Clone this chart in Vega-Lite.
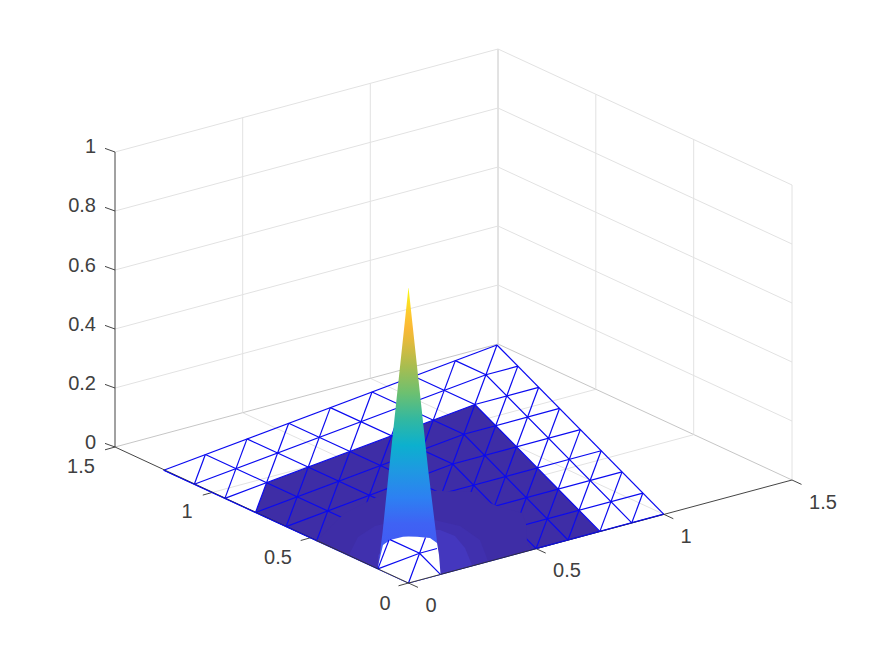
{"$schema":"https://vega.github.io/schema/vega-lite/v6.json","width":875,"height":656,"autosize":{"type":"fit","contains":"padding"},"padding":0,"background":"white","config":{"view":{"stroke":null}},
"datasets":{
"grid":[
{"l":"fx1","k":"a","u":536.2,"v":548.7},{"l":"fx1","k":"a","u":242.7,"v":412.7},
{"l":"fx2","k":"a","u":663.8,"v":514.3},{"l":"fx2","k":"a","u":370.3,"v":378.3},
{"l":"fy1","k":"a","u":310.7,"v":537.7},{"l":"fy1","k":"a","u":693.7,"v":434.7},
{"l":"fy2","k":"a","u":212.8,"v":492.3},{"l":"fy2","k":"a","u":595.8,"v":389.3},
{"l":"b1","k":"b","u":115,"v":447},{"l":"b1","k":"b","u":498,"v":344},
{"l":"b2","k":"b","u":498,"v":344},{"l":"b2","k":"b","u":792,"v":480},
{"l":"b3","k":"b","u":498,"v":344},{"l":"b3","k":"b","u":498,"v":49},
{"l":"v1","k":"a","u":242.7,"v":412.7},{"l":"v1","k":"a","u":242.7,"v":117.7},
{"l":"v2","k":"a","u":370.3,"v":378.3},{"l":"v2","k":"a","u":370.3,"v":83.3},
{"l":"v3","k":"a","u":595.8,"v":389.3},{"l":"v3","k":"a","u":595.8,"v":94.3},
{"l":"v4","k":"a","u":693.7,"v":434.7},{"l":"v4","k":"a","u":693.7,"v":139.7},
{"l":"v5","k":"a","u":792,"v":480},{"l":"v5","k":"a","u":792,"v":185},
{"l":"L2","k":"a","u":115,"v":388},{"l":"L2","k":"a","u":498,"v":285},
{"l":"L4","k":"a","u":115,"v":329},{"l":"L4","k":"a","u":498,"v":226},
{"l":"L6","k":"a","u":115,"v":270},{"l":"L6","k":"a","u":498,"v":167},
{"l":"L8","k":"a","u":115,"v":211},{"l":"L8","k":"a","u":498,"v":108},
{"l":"L10","k":"a","u":115,"v":152},{"l":"L10","k":"a","u":498,"v":49},
{"l":"R2","k":"a","u":498,"v":285},{"l":"R2","k":"a","u":792,"v":421},
{"l":"R4","k":"a","u":498,"v":226},{"l":"R4","k":"a","u":792,"v":362},
{"l":"R6","k":"a","u":498,"v":167},{"l":"R6","k":"a","u":792,"v":303},
{"l":"R8","k":"a","u":498,"v":108},{"l":"R8","k":"a","u":792,"v":244},
{"l":"R10","k":"a","u":498,"v":49},{"l":"R10","k":"a","u":792,"v":185}
],
"mesh":[
{"l":"i0","u":408.5,"v":583},{"l":"i0","u":163.7,"v":470.2},
{"l":"i1","u":440.4,"v":574.4},{"l":"i1","u":419.56,"v":553.25},{"l":"i1","u":205.36,"v":454.55},
{"l":"i2","u":472.3,"v":565.8},{"l":"i2","u":430.62,"v":523.5},{"l":"i2","u":247.02,"v":438.9},
{"l":"i3","u":504.2,"v":557.2},{"l":"i3","u":441.68,"v":493.75},{"l":"i3","u":288.68,"v":423.25},
{"l":"i4","u":536.1,"v":548.6},{"l":"i4","u":452.74,"v":464},{"l":"i4","u":330.34,"v":407.6},
{"l":"i5","u":568,"v":540},{"l":"i5","u":463.8,"v":434.25},{"l":"i5","u":372,"v":391.95},
{"l":"i6","u":599.9,"v":531.4},{"l":"i6","u":474.86,"v":404.5},{"l":"i6","u":413.66,"v":376.3},
{"l":"i7","u":631.8,"v":522.8},{"l":"i7","u":485.92,"v":374.75},{"l":"i7","u":455.32,"v":360.65},
{"l":"i8","u":663.7,"v":514.2},{"l":"i8","u":496.98,"v":345},
{"l":"j0","u":408.5,"v":583},{"l":"j0","u":663.7,"v":514.2},
{"l":"j1","u":377.9,"v":568.9},{"l":"j1","u":419.56,"v":553.25},{"l":"j1","u":642.86,"v":493.05},
{"l":"j2","u":347.3,"v":554.8},{"l":"j2","u":430.62,"v":523.5},{"l":"j2","u":622.02,"v":471.9},
{"l":"j3","u":316.7,"v":540.7},{"l":"j3","u":441.68,"v":493.75},{"l":"j3","u":601.18,"v":450.75},
{"l":"j4","u":286.1,"v":526.6},{"l":"j4","u":452.74,"v":464},{"l":"j4","u":580.34,"v":429.6},
{"l":"j5","u":255.5,"v":512.5},{"l":"j5","u":463.8,"v":434.25},{"l":"j5","u":559.5,"v":408.45},
{"l":"j6","u":224.9,"v":498.4},{"l":"j6","u":474.86,"v":404.5},{"l":"j6","u":538.66,"v":387.3},
{"l":"j7","u":194.3,"v":484.3},{"l":"j7","u":485.92,"v":374.75},{"l":"j7","u":517.82,"v":366.15},
{"l":"j8","u":163.7,"v":470.2},{"l":"j8","u":496.98,"v":345},
{"l":"d0","u":408.5,"v":583},{"l":"d0","u":496.98,"v":345},
{"l":"dA1","u":440.4,"v":574.4},{"l":"dA1","u":517.82,"v":366.15},
{"l":"dA2","u":472.3,"v":565.8},{"l":"dA2","u":538.66,"v":387.3},
{"l":"dA3","u":504.2,"v":557.2},{"l":"dA3","u":559.5,"v":408.45},
{"l":"dA4","u":536.1,"v":548.6},{"l":"dA4","u":580.34,"v":429.6},
{"l":"dA5","u":568,"v":540},{"l":"dA5","u":601.18,"v":450.75},
{"l":"dA6","u":599.9,"v":531.4},{"l":"dA6","u":622.02,"v":471.9},
{"l":"dA7","u":631.8,"v":522.8},{"l":"dA7","u":642.86,"v":493.05},
{"l":"dB1","u":377.9,"v":568.9},{"l":"dB1","u":455.32,"v":360.65},
{"l":"dB2","u":347.3,"v":554.8},{"l":"dB2","u":413.66,"v":376.3},
{"l":"dB3","u":316.7,"v":540.7},{"l":"dB3","u":372,"v":391.95},
{"l":"dB4","u":286.1,"v":526.6},{"l":"dB4","u":330.34,"v":407.6},
{"l":"dB5","u":255.5,"v":512.5},{"l":"dB5","u":288.68,"v":423.25},
{"l":"dB6","u":224.9,"v":498.4},{"l":"dB6","u":247.02,"v":438.9},
{"l":"dB7","u":194.3,"v":484.3},{"l":"dB7","u":205.36,"v":454.55}
],
"edges":[
{"l":"e1","u":316.7,"v":540.7},{"l":"e1","u":163.7,"v":470.2},
{"l":"e2","u":536.1,"v":548.6},{"l":"e2","u":663.7,"v":514.2}
],
"holeMesh":[
{"l":"h1","u":377.9,"v":568.9},{"l":"h1","u":389,"v":540},
{"l":"h2","u":440.4,"v":574.4},{"l":"h2","u":419.56,"v":553.25},{"l":"h2","u":390,"v":539.6},
{"l":"h3","u":377.9,"v":568.9},{"l":"h3","u":419.56,"v":553.25},{"l":"h3","u":437,"v":548.5},
{"l":"h4","u":408.5,"v":583},{"l":"h4","u":419.56,"v":553.25},{"l":"h4","u":425.5,"v":537.5}
],
"axes":[
{"l":"ax","u":408.5,"v":583},{"l":"ax","u":792,"v":480},
{"l":"ay","u":408.5,"v":583},{"l":"ay","u":115,"v":447},
{"l":"az","u":115,"v":447},{"l":"az","u":115,"v":152},
{"l":"tx0","u":408.5,"v":583},{"l":"tx0","u":418,"v":587.4},
{"l":"tx1","u":536.2,"v":548.7},{"l":"tx1","u":545.7,"v":553.1},
{"l":"tx2","u":663.8,"v":514.3},{"l":"tx2","u":673.3,"v":518.7},
{"l":"tx3","u":792,"v":480},{"l":"tx3","u":801.5,"v":484.4},
{"l":"ty0","u":408.5,"v":583},{"l":"ty0","u":398.5,"v":585.8},
{"l":"ty1","u":310.7,"v":537.7},{"l":"ty1","u":300.7,"v":540.5},
{"l":"ty2","u":212.8,"v":492.3},{"l":"ty2","u":202.8,"v":495.1},
{"l":"ty3","u":115,"v":447},{"l":"ty3","u":105,"v":449.8},
{"l":"tz0","u":115,"v":447},{"l":"tz0","u":105,"v":443.4},
{"l":"tz1","u":115,"v":388},{"l":"tz1","u":105,"v":384.4},
{"l":"tz2","u":115,"v":329},{"l":"tz2","u":105,"v":325.4},
{"l":"tz3","u":115,"v":270},{"l":"tz3","u":105,"v":266.4},
{"l":"tz4","u":115,"v":211},{"l":"tz4","u":105,"v":207.4},
{"l":"tz5","u":115,"v":152},{"l":"tz5","u":105,"v":148.4}
],
"labels":[
{"t":"0","u":431,"v":606},{"t":"0.5","u":567,"v":571},{"t":"1","u":686,"v":537},{"t":"1.5","u":823,"v":503},
{"t":"0","u":385,"v":604},{"t":"0.5","u":278,"v":558},{"t":"1","u":187,"v":512},{"t":"1.5","u":81,"v":467}
],
"zlabels":[
{"t":"0","u":96,"v":443},{"t":"0.2","u":96,"v":384},{"t":"0.4","u":96,"v":325},{"t":"0.6","u":96,"v":266},{"t":"0.8","u":96,"v":206},{"t":"1","u":96,"v":147}
]
},
"encoding":{
"x":{"field":"u","type":"quantitative","scale":{"domain":[0,875],"nice":false,"zero":false},"axis":null},
"y":{"field":"v","type":"quantitative","scale":{"domain":[656,0],"nice":false,"zero":false},"axis":null}
},
"layer":[
{"data":{"name":"grid"},"mark":{"type":"line","strokeWidth":1},"encoding":{"detail":{"field":"l"},"color":{"field":"k","type":"nominal","scale":{"domain":["a","b"],"range":["#E2E2E2","#C6C6C6"]},"legend":null}}},
{"data":{"values":[{"u":255.5,"v":512.5,"w":512.5},{"u":266.56,"v":482.75,"w":517.6},{"u":408.5,"v":429.4,"w":583},{"u":474.86,"v":404.5,"w":565.1},{"u":599.9,"v":531.4,"w":531.4}]},"mark":{"type":"area","color":"#3E2DA6","opacity":1},"encoding":{"y2":{"field":"w"}}},
{"data":{"name":"mesh"},"mark":{"type":"line","stroke":"#0A0AF0","strokeWidth":1.2},"encoding":{"detail":{"field":"l"}}},
{"data":{"values":[{"u":316,"v":541,"w":541},{"u":345,"v":513,"w":553.7},{"u":385,"v":493,"w":572},{"u":408.5,"v":490,"w":583},{"u":475,"v":492,"w":565},{"u":490,"v":503,"w":561},{"u":497,"v":506,"w":559},{"u":522,"v":513,"w":552.5},{"u":526,"v":524,"w":551.5},{"u":527,"v":541,"w":551},{"u":531,"v":549.5,"w":550}]},"mark":{"type":"area","color":"#3E2DA6","opacity":1},"encoding":{"y2":{"field":"w"}}},
{"data":{"values":[{"u":350,"v":553,"w":556},{"u":358,"v":537,"w":560},{"u":375,"v":526,"w":567.5},{"u":400,"v":520,"w":579},{"u":408.5,"v":519.5,"w":583},{"u":430,"v":519,"w":577},{"u":460,"v":526,"w":569},{"u":480,"v":540,"w":564},{"u":488,"v":561,"w":561.6}]},"mark":{"type":"area","color":"#4030AE","opacity":1},"encoding":{"y2":{"field":"w"}}},
{"data":{"values":[{"u":378,"v":555,"w":568},{"u":408.5,"v":530,"w":583},{"u":440,"v":530,"w":574.5},{"u":455,"v":536,"w":570.5},{"u":465,"v":548,"w":568},{"u":472,"v":565,"w":566}]},"mark":{"type":"area","color":"#4437BE","opacity":1},"encoding":{"y2":{"field":"w"}}},
{"data":{"values":[{"v":288,"u":408.4,"r":408.6},{"v":470,"u":389,"r":428.2},{"v":533,"u":382.5,"r":436},{"v":540,"u":381.6,"r":436.8},{"v":569,"u":377.9,"r":439.9},{"v":574.4,"u":390,"r":440.4}]},"mark":{"type":"area","orient":"horizontal","opacity":1,"color":{"gradient":"linear","x1":0,"y1":0,"x2":0,"y2":1,"stops":[{"offset":0,"color":"#F9FB15"},{"offset":0.09,"color":"#FDC82F"},{"offset":0.14,"color":"#FAB835"},{"offset":0.18,"color":"#E6BA3A"},{"offset":0.274,"color":"#A8BD50"},{"offset":0.366,"color":"#6DC070"},{"offset":0.457,"color":"#33B8A0"},{"offset":0.549,"color":"#0CB0CE"},{"offset":0.64,"color":"#1F98E2"},{"offset":0.733,"color":"#2D80F2"},{"offset":0.824,"color":"#3F62F4"},{"offset":1,"color":"#4452F2"}]}},"encoding":{"x2":{"field":"r"}}},
{"data":{"values":[{"u":378,"v":568,"w":569},{"u":379,"v":562,"w":569.4},{"u":383,"v":545,"w":571.2},{"u":390,"v":540,"w":574.5},{"u":403,"v":536.7,"w":580.5},{"u":408.5,"v":536.5,"w":583},{"u":417,"v":536.7,"w":580.7},{"u":430,"v":538,"w":577.2},{"u":437,"v":543,"w":575.3},{"u":439,"v":555,"w":574.8},{"u":440.5,"v":574,"w":574.4}]},"mark":{"type":"area","color":"#FFFFFF","opacity":1},"encoding":{"y2":{"field":"w"}}},
{"data":{"name":"holeMesh"},"mark":{"type":"line","stroke":"#0A0AF0","strokeWidth":1.2},"encoding":{"detail":{"field":"l"}}},
{"data":{"name":"axes"},"mark":{"type":"line","stroke":"#303030","strokeWidth":0.9},"encoding":{"detail":{"field":"l"}}},
{"data":{"name":"edges"},"mark":{"type":"line","stroke":"#0A0AF0","strokeWidth":0.9},"encoding":{"detail":{"field":"l"}}},
{"data":{"name":"labels"},"mark":{"type":"text","font":"Liberation Sans","fontSize":20,"color":"#404040","align":"center","baseline":"middle"},"encoding":{"text":{"field":"t"}}},
{"data":{"name":"zlabels"},"mark":{"type":"text","font":"Liberation Sans","fontSize":20,"color":"#404040","align":"right","baseline":"middle"},"encoding":{"text":{"field":"t"}}}
]}
